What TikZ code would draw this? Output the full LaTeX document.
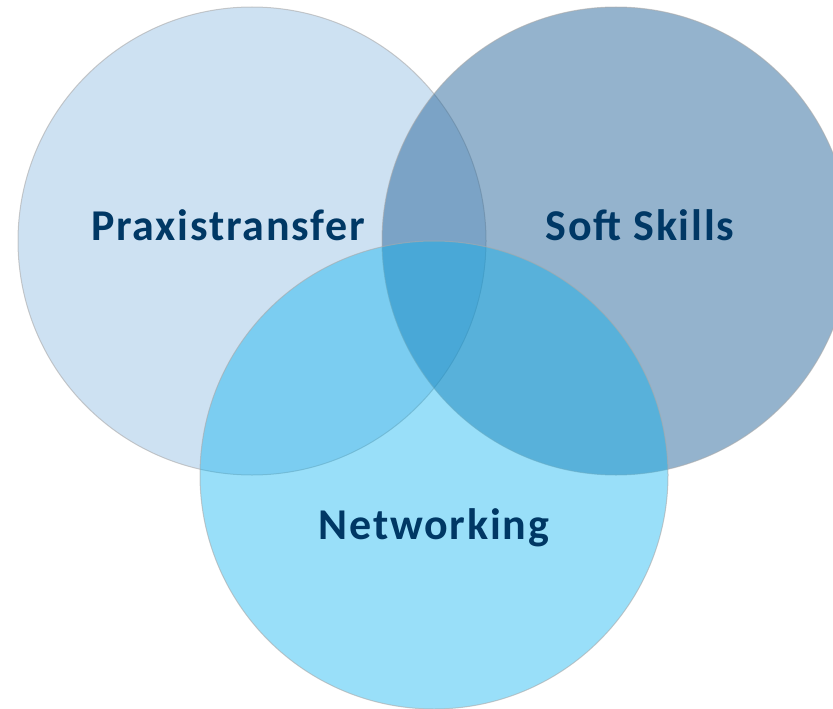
\documentclass[tikz,border=0pt]{standalone}
\usepackage{fontspec}
\setmainfont{Carlito}
\definecolor{praxisblue}{RGB}{91,155,213}
\definecolor{softblue}{RGB}{41,103,155}
\definecolor{netblue}{RGB}{0,176,240}
\definecolor{labelblue}{RGB}{0,56,101}
\definecolor{rimgray}{RGB}{170,170,170}
\usetikzlibrary{positioning}

\begin{document}
\begin{tikzpicture}[x=1pt, y=1pt]
    \tikzstyle{ring} = [circle, draw=rimgray, line width=1pt, minimum size=468pt,
        inner sep=0pt]
    \tikzstyle{label} = [anchor=base, text=labelblue,
        font=\fontsize{44}{50}\selectfont\bfseries\addfontfeature{LetterSpace=4}]

    \clip (0,0) rectangle (833,-709);
    \useasboundingbox (0,0) rectangle (833,-709);

    \node [ring, fill=praxisblue, fill opacity=0.3, draw opacity=0.6] (praxis) at (252,-241) {};
    \node [ring, fill=softblue, fill opacity=0.5, draw opacity=0.6] (soft) at (616,-241) {};
    \node [ring, fill=netblue, fill opacity=0.4, draw opacity=0.6] (net) at (434,-475) {};

    \node [label] (praxislabel) at ([xshift=-24pt, yshift=1pt]praxis.center) {Praxistransfer};
    \node [label] (softlabel) at ([xshift=24pt, yshift=1pt]soft.center) {Soft Skills};
    \node [label] (netlabel) at ([yshift=-64pt]net.center) {Networking};
\end{tikzpicture}
\end{document}
